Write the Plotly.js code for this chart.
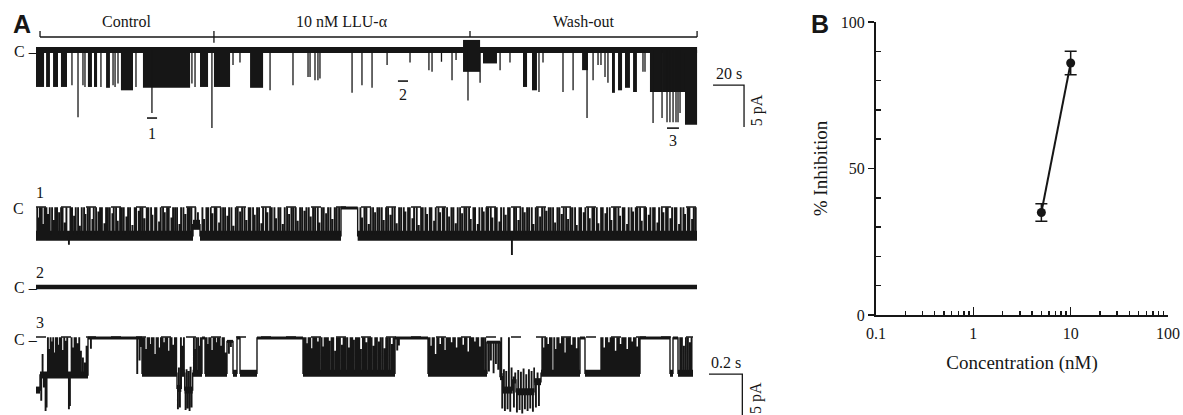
<!DOCTYPE html>
<html><head><meta charset="utf-8">
<script src="https://cdn.plot.ly/plotly-3.0.1.min.js"></script>
<style>html,body{margin:0;padding:0;background:#fff;}#chart{width:1183px;height:415px;}</style>
</head><body><div id="chart"></div>
<script>
// ================= DATA =================
// Panel A (top): continuous recording. time in s, current in pA (closed level C = 0)
const conditionNames = ['Control', '10 nM LLU-\u03b1', 'Wash-out'];
const conditionBounds = [2.6, 114.8, 280.0, 426.5];
const recordEnd = 426.5;
// bursts of openings: [start s, end s, open-level current pA]
const topBursts = [
  [0,5.2,-4.4],[6.5,9.0,-4.4],[11.0,14.2,-4.4],[16.1,20.0,-4.4],
  [33.5,36.1,-4.4],[37.4,39.4,-4.4],[45.2,47.7,-4.5],[54.8,62.6,-4.8],
  [69.0,99.4,-4.5],[105.8,111.0,-4.4],[114.8,125.2,-4.4],[138.1,146.5,-4.5],
  [288.4,297.4,-1.6],[314.2,316.8,-4.4],[320.0,323.2,-4.8],[352.3,356.1,-2.4],
  [371.6,373.5,-5.1],[375.5,378.1,-4.8],[380.0,383.2,-4.5],[385.2,387.7,-5.0],
  [396.1,403.9,-5.0],[403.9,418.7,-5.0],[418.7,426.5,-8.9]
];
// noisy block right after wash-out start: [start, end, upper pA, lower pA]
const topBlock = [275.5, 286.5, 1.2, -2.6];
// single openings: [time s, peak current pA]
const topSpikes = [
  [23.2,-4.2],[27.1,-8.0],[30.3,-4.2],[31.6,-4.4],[41.9,-4.4],[49.7,-4.2],[51.0,-4.4],
  [52.9,-4.0],[64.5,-4.4],[74.8,-7.5],[100.6,-4.0],[102.6,-4.4],[113.5,-9.3],[127.1,-1.8],
  [131.6,-1.5],[151.0,-4.8],[165.8,-4.2],[175.5,-3.2],[176.8,-3.2],[180.0,-3.6],[181.9,-3.6],
  [183.2,-3.4],[203.9,-5.1],[210.3,-4.2],[216.8,-4.5],[226.5,-1.8],[241.3,-1.5],[253.5,-2.4],
  [255.5,-2.6],[261.6,-1.4],[268.4,-3.6],[271.0,-1.2],[278.7,-6.0],[286.5,-3.9],[299.4,-2.4],
  [305.8,-1.5],[324.5,-5.0],[327.1,-1.5],[340.0,-5.0],[346.5,-4.8],[355.5,-8.1],[359.4,-3.6],
  [362.6,-1.8],[364.5,-1.8],[367.1,-3.2],[369.0,-3.9],[391.6,-2.6],[392.9,-2.6],[398.1,-8.7],
  [403.9,-8.1],[407.1,-8.6],[409.0,-8.6],[411.0,-8.6],[412.9,-8.6],[414.2,-8.6],[415.5,-7.5]
];
// segments shown expanded below
const segmentLabels = ['1', '2', '3'];
const segmentStart = [71.6, 233.5, 407.1];
const segmentEnd = [78.1, 240.0, 414.8];

// Panel A (expanded traces): time in ms, current in pA
const expandedEnd = 3966;
// trace 1 dwell segments [start ms, level pA] and brief closures [time ms, level pA]
const trace1Segments = [[0,-3.3],[942,-2.0],[984,-3.3],[1830,0],[1930,-3.3]];
const trace1Flickers = [
  [6,0],[13,-1.2],[22,0],[33,0],[41,-2.0],[50,0],[61,0],[70,-0.8],[81,0],[95,0],[104,-1.5],[114,0],[125,0],[137,-0.6],[149,0],[158,0],[171,-1.8],[181,0],[196,-4.3],[205,0],[215,0],[227,-1.0],[237,0],[251,0],[261,-2.2],[273,0],[287,0],[295,-0.8],[309,0],[321,0],[337,-1.4],[345,0],[359,0],[373,-0.5],[383,0],[394,0],
  [409,-1.9],[419,0],[429,0],[441,0],[457,-0.7],[465,0],[479,0],[489,-1.6],[503,0],[513,0],[525,0],[541,-1.1],[551,0],[563,0],[577,-2.1],[591,0],[599,0],[615,-0.4],[625,0],[637,0],[649,-1.3],[663,0],[673,0],[689,0],[697,-0.9],[713,0],[721,0],[737,-1.7],[747,0],[761,0],[771,-0.6],[785,0],[795,0],
  [811,-1.2],[821,0],[833,0],[845,0],[859,-2.0],[869,0],[883,0],[895,-0.8],[909,0],[919,0],[931,0],[955,0],[970,-0.6],[997,0],[1007,-1.4],[1021,0],[1031,0],[1047,0],[1057,-0.7],[1071,0],[1081,0],[1097,-1.8],[1107,0],[1121,0],[1133,0],[1147,-1.0],[1157,0],[1171,0],[1183,-2.2],[1197,0],
  [1209,0],[1223,-0.5],[1235,0],[1249,0],[1261,-1.5],[1275,0],[1285,0],[1301,0],[1311,-0.9],[1325,0],[1337,0],[1351,-1.9],[1361,0],[1377,0],[1387,-0.6],[1403,0],[1413,0],[1429,0],[1439,-1.3],[1453,0],[1465,0],[1479,-2.0],[1491,0],[1505,0],[1517,-0.8],[1531,0],[1543,0],[1557,0],[1569,-1.6],[1583,0],[1595,0],[1609,-0.4],[1621,0],[1635,0],[1647,-1.1],[1661,0],[1673,0],[1689,0],[1699,-1.8],[1713,0],[1725,0],[1739,-0.7],[1751,0],[1765,0],[1777,-1.4],[1791,0],[1803,0],[1817,0],
  [1945,0],[1955,-1.2],[1969,0],[1981,0],[1995,-2.0],[2007,0],[2021,0],[2033,-0.6],[2047,0],[2059,0],[2073,0],[2085,-1.5],[2099,0],[2111,0],[2125,-0.9],[2137,0],[2151,0],[2163,-1.9],[2177,0],[2189,0],[2205,0],[2215,-0.5],[2231,0],[2241,0],[2257,-1.3],[2267,0],[2283,0],[2295,-2.1],[2309,0],[2319,0],[2335,0],[2345,-0.8],[2361,0],[2371,0],[2387,-1.6],[2397,0],[2413,0],[2423,-0.6],[2439,0],[2449,0],[2465,0],[2477,-1.1],[2491,0],[2503,0],[2517,-1.9],[2529,0],[2543,0],[2555,-0.7],[2569,0],[2581,0],[2597,0],[2607,-1.4],[2623,0],[2633,0],[2649,-2.0],[2659,0],[2675,0],[2685,-0.5],[2701,0],[2711,0],[2727,0],[2737,-1.2],[2753,0],[2763,0],[2779,-1.7],[2789,0],[2805,0],[2817,-0.9],[2831,0],[2841,0],[2854,-6.2],[2867,0],[2879,0],[2893,-1.5],[2905,0],[2919,0],[2931,-0.6],[2945,0],[2957,0],[2973,0],[2983,-2.0],[2997,0],[3009,0],[3023,-1.1],[3035,0],[3049,0],[3061,-0.4],[3075,0],[3087,0],[3101,0],[3113,-1.8],[3127,0],[3139,0],[3153,-0.8],[3165,0],[3179,0],[3191,-1.4],[3205,0],[3217,0],[3233,0],[3243,-2.1],[3259,0],[3269,0],[3285,-0.6],[3295,0],[3311,0],[3321,-1.3],[3337,0],[3347,0],[3363,0],[3373,-1.9],[3389,0],[3399,0],[3415,-0.7],[3425,0],[3441,0],[3451,-1.5],[3467,0],[3477,0],[3493,0],[3503,-1.0],[3519,0],[3529,0],[3545,-2.0],[3555,0],[3571,0],[3581,-0.5],[3597,0],[3607,0],[3623,0],[3633,-1.6],[3649,0],[3659,0],[3675,-0.9],[3685,0],[3701,0],[3711,0],[3727,-1.8],[3737,0],[3753,0],[3763,-0.6],[3779,0],[3789,0],[3805,-1.3],[3815,0],[3831,0],[3841,0],[3857,-2.0],[3867,0],[3883,0],[3893,-0.8],[3909,0],[3919,0],[3935,-1.4],[3945,0],[3957,0]
];
// trace 2: in LLU-alpha, channel stays closed
const trace2Level = [[0,0],[3966,0]];
// trace 3 (wash-out) dwell segments and brief events
const trace3Segments = [[0,-6.2],[24,-4.4],[312,0],[636,-4.2],[846,-6.0],[872,-4.2],[892,-6.2],[940,-4.2],[996,0],[1014,-4.2],[1146,-0.4],[1182,-4.2],[1206,0],[1224,-4.2],[1326,0],[1602,-4.2],[2154,0],[2352,-4.2],[2706,-0.5],[2784,-4.6],[2800,-6.2],[2860,-5.0],[2880,-6.4],[2990,-5.2],[3030,-4.2],[3264,0],[3294,-4.2],[3624,0],[3804,-4.2],[3822,0],[3852,-4.2]];
const trace3End = 3942;
const trace3Flickers = [
  [30,-7.4],[38,-2.0],[46,-5.8],[56,-8.6],[62,-8.2],[70,0],[78,-1.4],[86,0],[92,-0.5],[102,0],[110,-1.8],[118,0],[126,0],[134,-0.9],[142,0],[150,0],[160,-1.5],[168,0],[176,-0.4],[186,0],[196,-8.4],[202,-8.0],[212,0],[220,-1.2],[230,0],[238,0],[248,-0.7],[258,0],[268,-1.6],[280,-2.4],[292,-3.0],[302,-1.0],
  [328,-1.2],[606,-4.2],[620,-2.6],[628,-1.0],
  [642,0],[650,0],[660,-1.4],[668,0],[678,0],[686,-0.8],[694,0],[704,0],[712,-2.0],[722,0],[730,0],[740,-1.2],[748,0],[758,0],[766,-0.6],[776,0],[786,0],[794,-1.6],[804,0],[812,0],[822,-0.9],[832,0],[840,0],
  [850,-8.4],[856,-3.6],[862,-8.2],[868,0],[878,-1.0],[886,0],[896,-8.5],[902,-3.8],[908,-8.3],[914,-4.0],[920,-8.6],[926,-3.5],[932,-8.2],[946,0],[952,-1.4],[960,0],
  [972,0],[980,-1.0],[988,0],[1022,0],[1030,-0.8],[1038,0],[1046,0],[1056,-1.5],[1064,0],[1074,0],[1082,-0.6],[1090,0],[1100,0],[1108,-1.0],[1118,0],[1126,0],[1136,-1.8],
  [1156,-1.8],[1168,-1.0],
  [1608,0],[1616,0],[1624,-0.7],[1634,0],[1644,0],[1652,-1.3],[1662,0],[1672,0],[1680,0],[1690,-0.5],[1700,0],[1712,0],[1722,-1.1],[1730,0],[1740,0],[1750,0],[1760,-0.4],[1772,0],[1782,0],[1794,-1.6],[1804,0],[1812,0],[1822,0],[1834,-0.9],[1844,0],[1854,0],[1866,0],[1876,-1.2],[1886,0],[1896,0],[1906,-0.3],[1918,0],[1928,0],[1938,0],[1948,-1.4],[1960,0],[1970,0],[1980,-0.6],[1992,0],[2002,0],[2012,0],[2024,-1.0],[2034,0],[2044,0],[2056,-0.5],[2066,0],[2078,0],[2090,-1.3],[2100,0],[2110,0],[2122,0],[2134,-0.8],[2144,0],
  [2166,-1.4],[2176,-0.8],
  [2360,0],[2368,-1.0],[2378,0],[2386,0],[2396,-2.0],[2406,0],[2414,0],[2424,-0.8],[2434,0],[2444,0],[2454,-1.5],[2462,0],[2472,0],[2482,0],[2492,-0.6],[2502,0],[2512,0],[2522,-1.2],[2532,0],[2542,0],[2552,0],[2562,-0.9],[2572,0],[2582,0],[2592,-1.7],[2602,0],[2612,0],[2622,0],[2632,-0.5],[2642,0],[2652,0],[2662,-1.1],[2672,0],[2682,0],[2694,0],
  [2716,-3.9],[2728,-2.6],[2744,-4.1],[2758,-3.0],[2772,-3.7],
  [2790,0],[2796,-8.3],[2806,-3.8],[2812,-8.6],[2820,-4.0],[2828,-8.4],[2836,0],[2844,-8.7],[2852,-3.6],[2866,-8.2],[2874,-4.2],[2884,-8.8],[2892,-3.9],[2900,-8.5],[2908,-4.1],[2916,-8.9],[2924,-3.7],[2932,-8.4],[2940,-4.4],[2948,-8.6],[2956,-3.8],[2964,-8.3],[2972,-4.0],[2980,-8.7],[2988,-3.6],[2998,-8.2],[3008,-4.2],[3016,-8.0],[3036,0],[3044,-1.2],[3054,0],[3062,0],[3072,-0.8],[3082,0],[3092,0],
  [3108,0],[3116,-1.4],[3126,0],[3134,0],[3144,-0.7],[3154,0],[3164,0],[3172,-1.8],[3182,0],[3192,0],[3202,0],[3212,-0.9],[3222,0],[3232,0],[3242,-1.3],[3252,0],
  [3390,0],[3398,0],[3408,-1.2],[3418,0],[3426,0],[3436,-0.6],[3446,0],[3456,0],[3466,0],[3476,-1.6],[3486,0],[3496,0],[3506,-0.8],[3516,0],[3526,0],[3536,0],[3546,-1.4],[3556,0],[3566,0],[3576,-0.5],[3586,0],[3596,0],[3606,-1.1],[3616,0],
  [3864,0],[3874,0],[3886,-1.0],[3898,0],[3910,0],[3922,-0.6],[3932,0]
];
// scale bars
const topScaleTime = 20;      // s
const lowScaleTime = 200;     // ms
const scaleCurrent = 5;       // pA

// Panel B: concentration-response
const concentration = [5, 10];        // nM
const inhibition = [35, 86];          // %
const inhibitionErr = [3, 4];         // SEM
const xTickVals = [0.1, 1, 10, 100];
const xTickText = ['0.1', '1', '10', '100'];
const yTickVals = [0, 50, 100];

// ================= DRAWING =================
const W = 1183, H = 415;
const dx = (a, b) => [a / W, b / W];
const dy = (top, bottom) => [1 - bottom / H, 1 - top / H];
const INK = '#161616';
const SERIF = 'Liberation Serif, Times New Roman, serif';
const SANS = 'Liberation Sans, Arial, sans-serif';
const FLICK = 3; // ms duration of brief events

function baseAt(segs, t) { let L = segs[0][1]; for (const s of segs) { if (s[0] <= t) L = s[1]; else break; } return L; }
function stepSeries(segs, endT, flicks) {
  const ev = segs.map(s => [s[0], s[1], 0]);
  (flicks || []).forEach(f => { ev.push([f[0], f[1], 1]); ev.push([f[0] + FLICK, baseAt(segs, f[0] + FLICK), 2]); });
  ev.sort((a, b) => a[0] - b[0] || a[2] - b[2]);
  const x = ev.map(e => e[0]), y = ev.map(e => e[1]);
  x.push(endT); y.push(y[y.length - 1]);
  return { x, y };
}
// horizontal dwell pieces selected by level
function dwellPieces(segs, endT, keep) {
  const x = [], y = [];
  segs.forEach((s, i) => {
    const e = i + 1 < segs.length ? segs[i + 1][0] : endT;
    if (keep(s[1])) { x.push(s[0], e, null); y.push(s[1], s[1], null); }
  });
  return { x, y };
}
function vsegs(list, yFrom) {
  const x = [], y = [];
  list.forEach(s => { x.push(s[0], s[0], null); y.push(yFrom, s[1], null); });
  return { x, y };
}

const data = [];
const common = { hoverinfo: 'skip', showlegend: false };
function L(o) { data.push(Object.assign({ mode: 'lines' }, o, common)); }
// --- top trace ---
L({ x: [0, recordEnd], y: [0, 0], xaxis: 'x', yaxis: 'y', line: { color: INK, width: 6 } });
data.push(Object.assign({ type: 'bar', x: topBursts.map(b => (b[0] + b[1]) / 2), width: topBursts.map(b => b[1] - b[0]), y: topBursts.map(b => b[2]), base: 0, xaxis: 'x', yaxis: 'y', marker: { color: INK, line: { width: 0 } } }, common));
data.push(Object.assign({ type: 'bar', x: [(topBlock[0] + topBlock[1]) / 2], width: [topBlock[1] - topBlock[0]], y: [topBlock[3] - topBlock[2]], base: topBlock[2], xaxis: 'x', yaxis: 'y', marker: { color: INK, line: { width: 0 } } }, common));
const sp = vsegs(topSpikes, 0);
L({ x: sp.x, y: sp.y, xaxis: 'x', yaxis: 'y', line: { color: INK, width: 1.3 } });
// condition bracket
const brY = 1.55, brTop = 2.26;
const bx = [conditionBounds[0], conditionBounds[conditionBounds.length - 1], null], by = [brY, brY, null];
conditionBounds.forEach((b, i) => { bx.push(b, b, null); by.push(brTop, (i === 1) ? 0.85 : brY, null); });
L({ x: bx, y: by, xaxis: 'x', yaxis: 'y', line: { color: INK, width: 1.3 } });
// segment markers
const segY = [-8.1, -3.7, -9.3];
const mx = [], my = [];
segmentStart.forEach((s, i) => { mx.push(s, segmentEnd[i], null); my.push(segY[i], segY[i], null); });
L({ x: mx, y: my, xaxis: 'x', yaxis: 'y', line: { color: INK, width: 1.6 } });
// top scale bar
const sbx0 = 436.8, sby0 = -4.17;
L({ x: [sbx0, sbx0 + topScaleTime, sbx0 + topScaleTime], y: [sby0, sby0, sby0 - scaleCurrent], xaxis: 'x', yaxis: 'y', line: { color: INK, width: 1.3 } });

// --- trace 1 ---
const t1 = stepSeries(trace1Segments, expandedEnd, trace1Flickers);
const t1o = dwellPieces(trace1Segments, expandedEnd, v => v < -1);
const t1c = dwellPieces(trace1Segments, expandedEnd, v => v >= -1);
L({ x: [0, expandedEnd], y: [0.12, 0.12], xaxis: 'x2', yaxis: 'y2', line: { color: INK, width: 1.4, dash: '10px,15px' } });
L({ x: t1o.x, y: t1o.y, xaxis: 'x2', yaxis: 'y2', line: { color: INK, width: 10 } });
L({ x: t1c.x, y: t1c.y, xaxis: 'x2', yaxis: 'y2', line: { color: INK, width: 3 } });
L({ x: t1.x, y: t1.y, xaxis: 'x2', yaxis: 'y2', line: { color: INK, width: 1.4, shape: 'hv' } });
// --- trace 2 ---
L({ x: trace2Level.map(p => p[0]), y: trace2Level.map(p => p[1]), xaxis: 'x2', yaxis: 'y3', line: { color: INK, width: 4.5 } });
// --- trace 3 ---
const t3 = stepSeries(trace3Segments, trace3End, trace3Flickers);
const t3o = dwellPieces(trace3Segments, trace3End, v => v < -2.5);
const t3c = dwellPieces(trace3Segments, trace3End, v => v >= -2.5);
L({ x: [0, trace3End], y: [0.12, 0.12], xaxis: 'x2', yaxis: 'y4', line: { color: INK, width: 1.4, dash: '10px,15px' } });
L({ x: t3o.x, y: t3o.y, xaxis: 'x2', yaxis: 'y4', line: { color: INK, width: 7 } });
L({ x: t3c.x, y: t3c.y, xaxis: 'x2', yaxis: 'y4', line: { color: INK, width: 3 } });
L({ x: t3.x, y: t3.y, xaxis: 'x2', yaxis: 'y4', line: { color: INK, width: 1.4, shape: 'hv' } });
// low scale bar
const lbx0 = 4038, lby0 = -4.29;
L({ x: [lbx0, lbx0 + lowScaleTime, lbx0 + lowScaleTime], y: [lby0, lby0, lby0 - scaleCurrent], xaxis: 'x2', yaxis: 'y4', line: { color: INK, width: 1.3 } });

// --- panel B ---
data.push(Object.assign({ x: concentration, y: inhibition, xaxis: 'x5', yaxis: 'y5', mode: 'lines+markers', cliponaxis: false,
  line: { color: INK, width: 2 }, marker: { color: INK, size: 9 },
  error_y: { type: 'data', array: inhibitionErr, visible: true, color: INK, thickness: 1.5, width: 6 } }, common));

const hidden = { visible: false, showgrid: false, zeroline: false, fixedrange: true };
const tf = { family: SERIF, size: 16, color: INK };
const ann = [];
function A(o) { ann.push(Object.assign({ showarrow: false, font: tf, xanchor: 'center', yanchor: 'middle' }, o)); }
A({ text: '<b>A</b>', xref: 'paper', yref: 'paper', x: 22 / W, y: 1 - 24 / H, font: { family: SANS, size: 25, color: INK } });
A({ text: '<b>B</b>', xref: 'paper', yref: 'paper', x: 820 / W, y: 1 - 24 / H, font: { family: SANS, size: 25, color: INK } });
conditionNames.forEach((n, i) => A({ text: n, xref: 'x', yref: 'y', x: (conditionBounds[i] + conditionBounds[i + 1]) / 2, y: 3.45 }));
const segLabY = [-9.9, -5.3, -10.8];
segmentLabels.forEach((l, i) => A({ text: l, xref: 'x', yref: 'y', x: (segmentStart[i] + segmentEnd[i]) / 2, y: segLabY[i] }));
A({ text: 'C \u2013', xref: 'paper', yref: 'y', x: 12 / W, xanchor: 'left', y: -0.2 });
A({ text: 'C', xref: 'paper', yref: 'y2', x: 18 / W, y: -0.1 });
A({ text: 'C \u2013', xref: 'paper', yref: 'y3', x: 12 / W, xanchor: 'left', y: 0 });
A({ text: 'C \u2013', xref: 'paper', yref: 'y4', x: 12 / W, xanchor: 'left', y: -0.2 });
A({ text: '1', xref: 'x2', yref: 'y2', x: 24, y: 1.79 });
A({ text: '2', xref: 'x2', yref: 'y3', x: 24, y: 1.67 });
A({ text: '3', xref: 'x2', yref: 'y4', x: 24, y: 1.79 });
A({ text: '20 s', xref: 'x', yref: 'y', x: sbx0 + topScaleTime / 2, y: sby0, yanchor: 'bottom', yshift: 1 });
A({ text: '5 pA', xref: 'x', yref: 'y', x: sbx0 + topScaleTime, xshift: 13, y: sby0 - scaleCurrent / 2 - 0.5, textangle: -90 });
A({ text: '0.2 s', xref: 'x2', yref: 'y4', x: lbx0 + lowScaleTime / 2, y: lby0, yanchor: 'bottom', yshift: 1 });
A({ text: '5 pA', xref: 'x2', yref: 'y4', x: lbx0 + lowScaleTime, xshift: 13, y: lby0 - scaleCurrent / 2 - 0.3, textangle: -90 });

const minorLog = [];
[0.1, 1, 10].forEach(d => { for (let k = 2; k <= 9; k++) minorLog.push(+(d * k).toPrecision(3)); });

const layout = {
  width: W, height: H, margin: { l: 0, r: 0, t: 0, b: 0 }, paper_bgcolor: '#fff', plot_bgcolor: 'rgba(0,0,0,0)',
  showlegend: false, hovermode: false, barmode: 'overlay',
  font: { family: SERIF, color: INK },
  xaxis: Object.assign({ domain: dx(36, 760), range: [0, 724 / 1.55], anchor: 'y' }, hidden),
  yaxis: Object.assign({ domain: dy(10, 150), range: [-100 / 8.4, 40 / 8.4], anchor: 'x' }, hidden),
  xaxis2: Object.assign({ domain: dx(36, 760), range: [0, 724 * 6], anchor: 'y2' }, hidden),
  yaxis2: Object.assign({ domain: dy(185, 255), range: [-47 / 8.4, 23 / 8.4], anchor: 'x2' }, hidden),
  yaxis3: Object.assign({ domain: dy(265, 300), range: [-13 / 8.4, 22 / 8.4], anchor: 'x2' }, hidden),
  yaxis4: Object.assign({ domain: dy(315, 415), range: [-77 / 8.4, 23 / 8.4], anchor: 'x2' }, hidden),
  xaxis5: {
    domain: dx(876, 1168), type: 'log', range: [-1, 2], anchor: 'y5', fixedrange: true,
    showline: true, linecolor: INK, linewidth: 2, showgrid: false, zeroline: false,
    tickmode: 'array', tickvals: xTickVals, ticktext: xTickText, ticks: 'inside', ticklen: 8, tickwidth: 1.5, tickcolor: INK,
    ticklabelstandoff: 3,
    minor: { tickmode: 'array', tickvals: minorLog, ticks: 'inside', ticklen: 4, tickwidth: 1.5, tickcolor: INK, showgrid: false },
    tickfont: tf, title: { text: 'Concentration (nM)', font: { family: SERIF, size: 19, color: INK }, standoff: 14 }
  },
  yaxis5: {
    domain: dy(22, 315), range: [0, 100], anchor: 'x5', fixedrange: true,
    showline: true, linecolor: INK, linewidth: 2, showgrid: false, zeroline: false,
    tickmode: 'array', tickvals: yTickVals, ticks: 'outside', ticklen: 6, tickwidth: 1.5, tickcolor: INK,
    minor: { tickmode: 'array', tickvals: [10, 20, 30, 40, 60, 70, 80, 90], ticks: 'inside', ticklen: 5, tickwidth: 1.5, tickcolor: INK, showgrid: false },
    tickfont: tf, title: { text: '% Inhibition', font: { family: SERIF, size: 19, color: INK }, standoff: 8 }
  },
  annotations: ann
};
Plotly.newPlot('chart', data, layout, { staticPlot: true, displayModeBar: false });
</script></body></html>
